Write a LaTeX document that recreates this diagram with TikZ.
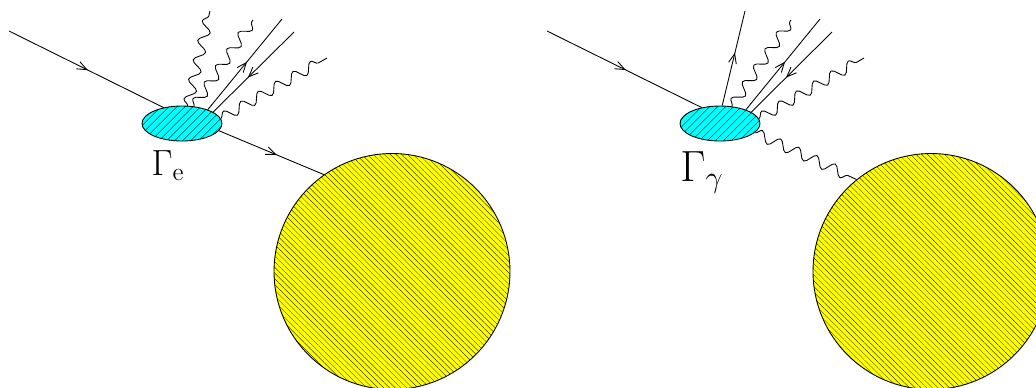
\documentclass[tikz,border=0pt]{standalone}
\usepackage{amsmath}
\usepackage{tikz}
\usetikzlibrary{arrows.meta,decorations.pathmorphing,decorations.markings,patterns.meta,shapes.geometric}
\definecolor{blobcyan}{RGB}{0,255,255}
\definecolor{targetyellow}{RGB}{255,255,0}
\tikzset{
  blob/.style={draw,ellipse,inner sep=0pt,minimum width=1.6cm,minimum height=0.7cm,
    preaction={fill=blobcyan},pattern={Lines[angle=45,distance=3.2pt,line width=0.2pt]}},
  target/.style={draw,circle,inner sep=0pt,minimum size=4.72cm,
    preaction={fill=targetyellow},pattern={Lines[angle=-45,distance=2.3pt,line width=0.15pt]}},
  photon/.style={decorate,decoration={snake,amplitude=0.105cm,segment length=0.4cm}},
  arrowat/.style={postaction={decorate,decoration={markings,
    mark=at position #1 with {\arrow{Straight Barb[length=5.5pt,width=4.5pt]}}}}},
  rate/.style={inner sep=0pt,anchor=base}
}
\begin{document}
\begin{tikzpicture}[x=0.02cm,y=-0.02cm,line width=0.5pt]
  \useasboundingbox (0,0) rectangle (1036,387);
  \clip (0,0) rectangle (1036,387);

  % left: electron
  \node[blob] (vertexe) at (182,123.5) {};
  \node[target] (targete) at (392,271.5) {};
  \node[rate,font=\fontsize{21}{25}\selectfont] (ratee) at (168,175) {$\Gamma_{\mathrm{e}}$};
  \coordinate (ine) at (9,31);
  \coordinate (phaoe) at (210,11);
  \coordinate (phboe) at (253,20);
  \coordinate (fupe) at (282,19);
  \coordinate (fdne) at (294,32);
  \coordinate (phce) at (327,58);
  \draw[arrowat=0.51] (ine) -- (vertexe.139);
  \draw[photon] (vertexe.72) -- (phaoe);
  \draw[photon] (vertexe.55) -- (phboe);
  \draw[arrowat=0.53] (vertexe.28) -- (fupe);
  \draw[arrowat=0.57] (fdne) -- (vertexe.20);
  \draw[photon] (vertexe.7) -- (phce);
  \draw[arrowat=0.55] (vertexe.349) -- (targete.125);

  % right: photon
  \node[blob] (vertexg) at (720,123.5) {};
  \node[target] (targetg) at (931,271.5) {};
  \node[rate,font=\fontsize{24}{28}\selectfont] (rateg) at (702,181) {$\Gamma_{\gamma}$};
  \coordinate (ing) at (547,31);
  \coordinate (fag) at (745,11);
  \coordinate (phbg) at (791,20);
  \coordinate (fupg) at (820,19);
  \coordinate (fdng) at (832,32);
  \coordinate (phcg) at (864,58);
  \draw[arrowat=0.51] (ing) -- (vertexg.139);
  \draw[arrowat=0.56] (vertexg.83) -- (fag);
  \draw[photon] (vertexg.55) -- (phbg);
  \draw[arrowat=0.53] (vertexg.28) -- (fupg);
  \draw[arrowat=0.57] (fdng) -- (vertexg.20);
  \draw[photon] (vertexg.7) -- (phcg);
  \draw[photon] (vertexg.345) -- (targetg.129);
\end{tikzpicture}
\end{document}
